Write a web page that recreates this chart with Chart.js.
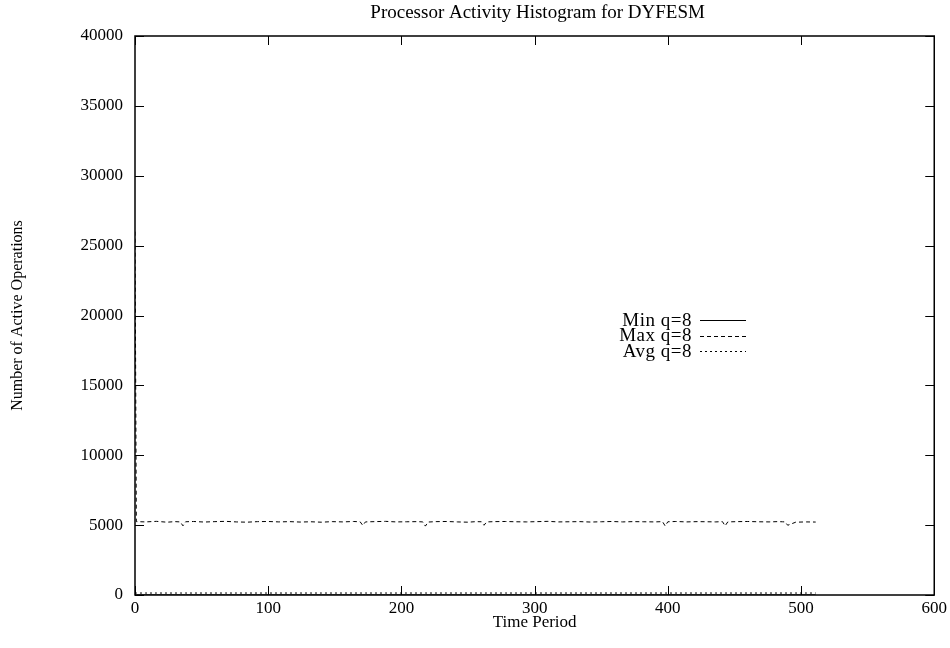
<!DOCTYPE html>
<html>
<head>
<meta charset="utf-8">
<script src="https://cdn.jsdelivr.net/npm/chart.js@4"></script>
<style>
  html, body { margin: 0; padding: 0; background: #fff; }
  #wrap { width: 950px; height: 648px; }
</style>
</head>
<body>
<div id="wrap"><canvas id="histChart" width="950" height="648"></canvas></div>
<script>
// Periodos de tiempo (eje X) y operaciones activas por serie
const periods = [0, 1, 8, 16, 24, 30, 34, 36, 38, 44, 52, 60, 68, 76, 84, 92, 100, 108, 116, 124,
  132, 140, 148, 156, 164, 169, 171, 173, 180, 188, 196, 204, 212, 216, 218, 220, 226, 234, 242,
  250, 256, 260, 262, 264, 270, 278, 286, 294, 302, 310, 318, 326, 334, 342, 350, 358, 366, 374,
  382, 390, 396, 398, 400, 406, 414, 422, 430, 436, 441, 443, 445, 452, 460, 468, 476, 482, 486,
  488, 490, 496, 504, 511];

const maxOps = [26000, 5250, 5230, 5270, 5210, 5250, 5230, 4950, 5240, 5260, 5220, 5250, 5270, 5230,
  5210, 5250, 5260, 5230, 5250, 5220, 5240, 5210, 5250, 5230, 5260, 5240, 4980, 5230, 5250, 5270,
  5230, 5240, 5250, 5230, 4930, 5220, 5250, 5260, 5230, 5210, 5250, 5240, 4990, 5230, 5250, 5260,
  5240, 5230, 5250, 5270, 5230, 5240, 5250, 5220, 5240, 5260, 5230, 5250, 5240, 5230, 5250, 4940,
  5240, 5260, 5230, 5250, 5240, 5230, 5250, 4950, 5230, 5250, 5260, 5240, 5230, 5250, 5240, 5230,
  4990, 5210, 5230, 5220];

const avgOps = [150, 140, 140, 140, 140, 140, 140, 140, 140, 140, 140, 140, 140, 140, 140, 140, 140,
  140, 140, 140, 140, 140, 140, 140, 140, 140, 140, 140, 140, 140, 140, 140, 140, 140, 140, 140, 140,
  140, 140, 140, 140, 140, 140, 140, 140, 140, 140, 140, 140, 140, 140, 140, 140, 140, 140, 140, 140,
  140, 140, 140, 140, 140, 140, 140, 140, 140, 140, 140, 140, 140, 140, 140, 140, 140, 140, 140, 140,
  140, 140, 140, 140, 140];

const minOps = [10, 10, 10, 10, 10, 10, 10, 10, 10, 10, 10, 10, 10, 10, 10, 10, 10, 10, 10, 10, 10,
  10, 10, 10, 10, 10, 10, 10, 10, 10, 10, 10, 10, 10, 10, 10, 10, 10, 10, 10, 10, 10, 10, 10, 10, 10,
  10, 10, 10, 10, 10, 10, 10, 10, 10, 10, 10, 10, 10, 10, 10, 10, 10, 10, 10, 10, 10, 10, 10, 10, 10,
  10, 10, 10, 10, 10, 10, 10, 10, 10, 10, 10];

const seriesNames = ['Min q=8', 'Max q=8', 'Avg q=8'];
const seriesDash = [[], [4, 3], [2, 3]];
const chartTitle = 'Processor Activity Histogram for DYFESM';

const FONT = 'Liberation Serif, Times New Roman, serif';

function toPoints(ys) {
  return periods.map((x, i) => ({ x: x, y: ys[i] }));
}

// Titulo, marcas hacia dentro en los cuatro lados, caja del grafico y leyenda
const framePlugin = {
  id: 'frame',
  afterDraw(chart) {
    const { ctx, chartArea: a, scales } = chart;
    ctx.save();
    ctx.fillStyle = '#000';
    ctx.font = '19px ' + FONT;
    ctx.textAlign = 'center';
    ctx.textBaseline = 'middle';
    ctx.fillText(chartTitle, (a.left + a.right) / 2 + 3, 13);

    ctx.strokeStyle = '#000';
    ctx.lineWidth = 1;
    const tl = 9;
    scales.x.ticks.forEach(t => {
      const px = Math.round(scales.x.getPixelForValue(t.value)) + 0.5;
      ctx.beginPath();
      ctx.moveTo(px, a.bottom); ctx.lineTo(px, a.bottom - tl);
      ctx.moveTo(px, a.top); ctx.lineTo(px, a.top + tl);
      ctx.stroke();
    });
    scales.y.ticks.forEach(t => {
      const py = Math.round(scales.y.getPixelForValue(t.value)) + 0.5;
      ctx.beginPath();
      ctx.moveTo(a.left, py); ctx.lineTo(a.left + tl, py);
      ctx.moveTo(a.right, py); ctx.lineTo(a.right - tl, py);
      ctx.stroke();
    });
    ctx.lineWidth = 1.5;
    ctx.strokeRect(a.left, a.top, a.right - a.left, a.bottom - a.top);

    // leyenda
    ctx.font = '19px ' + FONT;
    ctx.letterSpacing = '0.5px';
    ctx.textAlign = 'right';
    ctx.lineWidth = 1;
    seriesNames.forEach((name, i) => {
      const y = 320 + i * 15.5;
      ctx.fillText(name, 692, y + 1);
      ctx.setLineDash(seriesDash[i]);
      ctx.beginPath();
      ctx.moveTo(700, Math.round(y) + 0.5);
      ctx.lineTo(746, Math.round(y) + 0.5);
      ctx.stroke();
      ctx.setLineDash([]);
    });
    ctx.restore();
  }
};

const allSeries = [minOps, maxOps, avgOps];

const ctx = document.getElementById('histChart').getContext('2d');
const histChart = new Chart(ctx, {
  type: 'line',
  data: {
    datasets: seriesNames.map((name, i) => ({
      label: name,
      data: toPoints(allSeries[i]),
      borderColor: '#000',
      borderWidth: 1,
      borderDash: seriesDash[i],
      pointRadius: 0,
      fill: false,
      tension: 0
    }))
  },
  options: {
    responsive: false,
    animation: false,
    layout: { padding: { left: 0, right: 15, top: 36, bottom: 0 } },
    plugins: {
      legend: { display: false },
      tooltip: { enabled: false },
      title: { display: false }
    },
    scales: {
      x: {
        type: 'linear',
        min: 0,
        max: 600,
        afterFit(scale) { scale.height = 53; },
        ticks: { stepSize: 100, color: '#000', padding: 3, maxRotation: 0,
          font: { family: FONT, size: 17 }, callback: v => String(v) },
        grid: { display: false, drawTicks: false },
        border: { display: false },
        title: { display: true, text: 'Time Period', color: '#000',
          font: { family: FONT, size: 17 }, padding: { top: 0, bottom: 15 } }
      },
      y: {
        min: 0,
        max: 40000,
        afterFit(scale) { scale.width = 135; },
        ticks: { stepSize: 5000, color: '#000', padding: 12,
          font: { family: FONT, size: 17 }, callback: v => String(v) },
        grid: { display: false, drawTicks: false },
        border: { display: false },
        title: { display: true, text: 'Number of Active Operations', color: '#000',
          font: { family: FONT, size: 16 }, padding: { top: 8, bottom: 0 } }
      }
    }
  },
  plugins: [framePlugin]
});
</script>
</body>
</html>
